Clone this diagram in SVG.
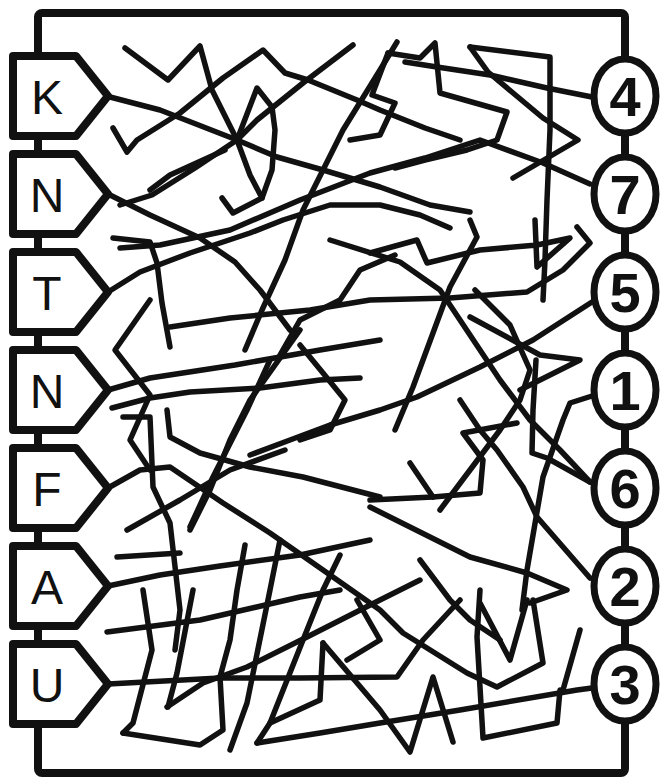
<svg xmlns="http://www.w3.org/2000/svg" width="663" height="781" viewBox="0 0 663 781">
<style>
.ln{fill:none;stroke:#111;stroke-width:5.5;stroke-linecap:round;stroke-linejoin:round}
.frame{fill:none;stroke:#111;stroke-width:8;stroke-linejoin:round}
.tag{fill:#fff;stroke:#111;stroke-width:8;stroke-linejoin:round}
.circ{fill:#fff;stroke:#111;stroke-width:7}
.lt{font-family:"Liberation Sans",Arial,sans-serif;font-size:48px;fill:#111;text-anchor:middle}
.dg{font-family:"Liberation Sans",Arial,sans-serif;font-size:56px;font-weight:bold;fill:#111;text-anchor:middle}
</style>
<rect width="663" height="781" fill="#fff"/>
<rect class="frame" x="38" y="13" width="587" height="760" rx="4"/>
<g id="connectors">
<polyline class="ln" points="125,48 168,80 200,46 212,90 237,140 250,175 262,198 233,213 222,198"/>
<polyline class="ln" points="113,128 127,152 137,140 180,113 223,78 263,50 285,73 308,80 357,100 380,110 425,128 460,140"/>
<polyline class="ln" points="110,97 160,110 237,140 277,157 323,170 380,187 430,205 470,212"/>
<polyline class="ln" points="353,45 303,83 257,120 237,140 195,168 152,195 120,205"/>
<polyline class="ln" points="397,42 380,70 343,130 323,170 303,210 285,260 262,310 245,350"/>
<polyline class="ln" points="237,140 257,88 272,107 275,130 272,170 262,198"/>
<polyline class="ln" points="388,53 420,58 435,43 440,93 507,112 497,140 467,150 425,160 395,168"/>
<polyline class="ln" points="388,53 372,95 395,103 380,135 350,140"/>
<polyline class="ln" points="470,47 550,57 550,130 547,200 545,260 543,300"/>
<polyline class="ln" points="470,47 488,72 543,118 578,140 513,178"/>
<polyline class="ln" points="592,97 547,88 490,75 437,67 405,62"/>
<polyline class="ln" points="590,184 543,163 480,140 425,158 370,173 300,200 230,230 160,245 120,248"/>
<polyline class="ln" points="150,190 170,175 225,150"/>
<polyline class="ln" points="108,194 150,215 200,238 235,262 260,290 290,330"/>
<polyline class="ln" points="113,238 150,242 157,263 162,303 170,347"/>
<polyline class="ln" points="108,292 140,272 190,253 250,233 283,220 330,205 380,205 420,215 450,228"/>
<polyline class="ln" points="370,253 417,240 427,263 480,250 537,245 570,238 537,267 535,220"/>
<polyline class="ln" points="577,227 590,243 563,270 527,292 450,298 370,300 310,310 230,318 170,327"/>
<polyline class="ln" points="470,220 477,237 450,287 413,387 395,430"/>
<polyline class="ln" points="592,302 533,340 480,367 417,397 380,410 330,425 290,440 250,455"/>
<polyline class="ln" points="330,240 400,262 440,290 470,335 500,380 530,420 560,450 590,482"/>
<polyline class="ln" points="300,330 250,400 230,440 210,490 190,530"/>
<polyline class="ln" points="108,390 150,378 235,365 320,350 380,340"/>
<polyline class="ln" points="112,408 150,398 190,392 260,388 320,380 360,378"/>
<polyline class="ln" points="150,300 115,350 150,395 130,440 150,470"/>
<polyline class="ln" points="475,290 510,325 530,370 520,400 500,430 470,470 440,510"/>
<polyline class="ln" points="300,345 323,373 345,400 330,430 300,440"/>
<polyline class="ln" points="470,317 540,355 580,360 520,390"/>
<polyline class="ln" points="592,396 570,403 563,420 543,477 527,570 522,610"/>
<polyline class="ln" points="590,482 547,458 532,453 533,410 536,360"/>
<polyline class="ln" points="370,500 433,497 480,493 483,460 463,433 517,423"/>
<polyline class="ln" points="410,463 433,497"/>
<polyline class="ln" points="590,578 537,517 523,487 497,450 480,430 460,400"/>
<polyline class="ln" points="370,507 470,557 527,573 567,590 530,603"/>
<polyline class="ln" points="280,355 300,320 340,300 360,270 395,255"/>
<polyline class="ln" points="123,417 150,417 153,487 170,523 180,610 175,650"/>
<polyline class="ln" points="108,488 140,470 170,467 223,503 270,533 323,570 380,610 403,633 467,673 497,687 543,663 533,600"/>
<polyline class="ln" points="167,410 170,437 200,453 250,467 303,477 380,497"/>
<polyline class="ln" points="190,527 213,477 247,410 270,360"/>
<polyline class="ln" points="127,530 180,500 230,470 285,450"/>
<polyline class="ln" points="117,557 180,553"/>
<polyline class="ln" points="108,586 160,575 220,566 300,555 370,540"/>
<polyline class="ln" points="107,632 200,620 300,597 340,590"/>
<polyline class="ln" points="108,684 220,678 300,678 397,677 423,640 460,600"/>
<polyline class="ln" points="167,707 203,683 247,667 307,637 380,600 420,580"/>
<polyline class="ln" points="123,733 200,745 223,730 220,677 230,640 237,590 245,545"/>
<polyline class="ln" points="143,590 152,650 133,723 123,733"/>
<polyline class="ln" points="193,590 177,673 168,707"/>
<polyline class="ln" points="230,750 247,703 270,590 280,540"/>
<polyline class="ln" points="257,743 320,733 380,723 460,710 577,690 592,688"/>
<polyline class="ln" points="257,743 270,723 303,640 323,590 340,555"/>
<polyline class="ln" points="323,643 380,710 410,752 433,677 453,742"/>
<polyline class="ln" points="323,643 320,700 270,723"/>
<polyline class="ln" points="347,660 380,640 357,600"/>
<polyline class="ln" points="580,630 563,690"/>
<polyline class="ln" points="480,590 477,637 483,738 557,723 560,690"/>
<polyline class="ln" points="480,603 510,660 527,600"/>
<polyline class="ln" points="420,560 450,600 470,620 500,640"/>
</g>
<g id="tag-K"><path class="tag" d="M13,56 H76 L108,96 L76,136 H13 Z"/><text class="lt" x="47" y="114">K</text></g>
<g id="tag-N1"><path class="tag" d="M13,154 H76 L108,194 L76,234 H13 Z"/><text class="lt" x="47" y="212">N</text></g>
<g id="tag-T"><path class="tag" d="M13,252 H76 L108,292 L76,332 H13 Z"/><text class="lt" x="47" y="310">T</text></g>
<g id="tag-N2"><path class="tag" d="M13,350 H76 L108,390 L76,430 H13 Z"/><text class="lt" x="47" y="408">N</text></g>
<g id="tag-F"><path class="tag" d="M13,448 H76 L108,488 L76,528 H13 Z"/><text class="lt" x="47" y="506">F</text></g>
<g id="tag-A"><path class="tag" d="M13,546 H76 L108,586 L76,626 H13 Z"/><text class="lt" x="47" y="604">A</text></g>
<g id="tag-U"><path class="tag" d="M13,644 H76 L108,684 L76,724 H13 Z"/><text class="lt" x="47" y="702">U</text></g>
<g id="c4"><ellipse class="circ" cx="625" cy="96" rx="31" ry="37"/><text class="dg" x="625" y="116">4</text></g>
<g id="c7"><ellipse class="circ" cx="625" cy="194" rx="31" ry="37"/><text class="dg" x="625" y="214">7</text></g>
<g id="c5"><ellipse class="circ" cx="625" cy="292" rx="31" ry="37"/><text class="dg" x="625" y="312">5</text></g>
<g id="c1"><ellipse class="circ" cx="625" cy="390" rx="31" ry="37"/><text class="dg" x="625" y="410">1</text></g>
<g id="c6"><ellipse class="circ" cx="625" cy="488" rx="31" ry="37"/><text class="dg" x="625" y="508">6</text></g>
<g id="c2"><ellipse class="circ" cx="625" cy="586" rx="31" ry="37"/><text class="dg" x="625" y="606">2</text></g>
<g id="c3"><ellipse class="circ" cx="625" cy="684" rx="31" ry="37"/><text class="dg" x="625" y="704">3</text></g>
</svg>
